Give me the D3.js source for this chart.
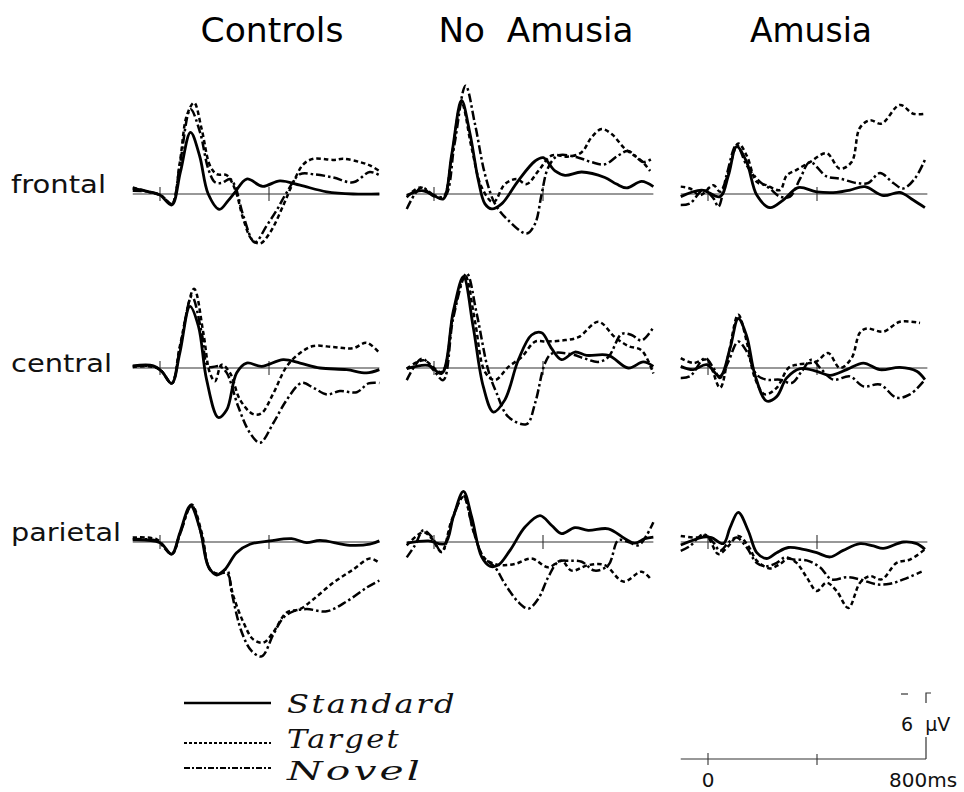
<!DOCTYPE html>
<html>
<head>
<meta charset="utf-8">
<script src="https://cdn.jsdelivr.net/npm/d3@7"></script>
<style>
  html, body { margin: 0; padding: 0; background: #fff; }
  svg { display: block; }
</style>
</head>
<body>
<svg id="chart" width="964" height="792"></svg>
<script>
    'use strict';

    // groups, sites and conditions
    const groups = ['Controls', 'No  Amusia', 'Amusia'];
    const sites = ['frontal', 'central', 'parietal'];
    const conditions = ['Standard', 'Target', 'Novel'];
    const timeTicks = [0, 400];

    // waveforms: [ms, µV], negative plotted up
    const ctlFrontalStd = [[-100,-0.5],[-40,-0.2],[0,0.1],[43,1.0],[75,-2.0],[112,-5.6],[145,-3.5],[177,0],[218,1.4],[250,0.6],[275,-0.15],[318,-1.36],[377,-0.7],[440,-1.2],[514,-0.8],[612,-0.2],[709,0],[805,0]];
    const ctlFrontalTgt = [[-100,-0.6],[-37,-0.15],[5,0.15],[43,0.9],[73,-2.9],[98,-7.1],[125,-8.3],[153,-5.9],[183,-2.6],[208,-1.8],[245,-1.7],[275,-0.45],[306,2.3],[336,4.1],[367,4.5],[404,3.5],[452,1.06],[489,-1.06],[526,-2.7],[563,-3.2],[636,-3.1],[673,-3.2],[734,-2.9],[770,-2.6],[805,-2.1]];
    const ctlFrontalNov = [[-100,-0.3],[-37,-0.2],[5,0.15],[43,0.9],[73,-2.7],[112,-7.7],[147,-5.6],[177,-2.3],[202,-1.06],[226,-1.0],[257,-1.36],[275,-0.76],[306,2.0],[348,4.4],[391,2.9],[430,1.4],[465,-0.15],[514,-1.8],[563,-1.8],[636,-1.5],[709,-1.06],[770,-2.0],[805,-1.7]];

    const noaFrontalStd = [[-100,0.15],[-45,-0.3],[0,0.15],[34,0.45],[65,-3.6],[101,-8.5],[132,-5.5],[163,-1.2],[187,0.9],[212,1.36],[248,0.9],[309,-1.2],[371,-3.0],[401,-3.3],[444,-2.1],[481,-1.7],[542,-2.0],[627,-1.5],[670,-0.9],[707,-0.55],[762,-1.15],[805,-0.67]];
    const noaFrontalTgt = [[-100,0.3],[-51,-0.6],[0,0.2],[34,0.3],[65,-3.4],[101,-8.3],[138,-4.2],[175,-0.6],[218,0.76],[260,-0.9],[303,-1.36],[340,-0.9],[383,-2.1],[432,-3.5],[493,-3.4],[542,-3.8],[578,-5.15],[615,-5.9],[652,-5.45],[701,-4.1],[762,-3.0],[793,-2.1]];
    const noaFrontalNov = [[-100,1.36],[-70,0],[-45,-0.6],[0,0.1],[40,0.2],[75,-4.5],[116,-9.85],[150,-6.4],[187,-1.8],[224,0.9],[273,2.4],[340,3.6],[371,2.7],[395,0],[419,-2.4],[456,-3.5],[530,-3.3],[578,-2.9],[627,-2.7],[676,-3.5],[713,-3.9],[768,-2.9],[805,-3.3]];

    const amuFrontalStd = [[-100,0.24],[-23,-0.36],[44,0.24],[75,-1.7],[105,-4.3],[142,-2.9],[179,0.1],[227,1.24],[276,0.55],[331,-0.58],[399,-0.2],[472,-0.15],[521,-0.36],[576,-0.67],[643,0.15],[704,-0.15],[753,0.55],[796,1.24]];
    const amuFrontalTgt = [[-100,-0.67],[-66,-0.5],[-29,0.1],[20,-0.8],[44,-0.2],[68,-1.4],[111,-4.6],[142,-3.5],[179,-1.1],[215,-0.8],[264,-0.36],[289,-1.7],[325,-2.2],[374,-2.9],[435,-3.7],[484,-2.3],[527,-2.9],[557,-6.0],[594,-6.7],[637,-6.4],[704,-8.1],[753,-7.3],[796,-7.3]];
    const amuFrontalNov = [[-100,1.0],[-66,0.85],[-17,-0.36],[20,0.4],[38,1.15],[68,-1.7],[105,-4.45],[142,-2.6],[191,-1.1],[227,-0.5],[264,0.24],[301,0.24],[338,-1.4],[374,-2.9],[435,-1.6],[484,-1.4],[545,-1.0],[588,-1.0],[631,-1.9],[680,-1.0],[716,-0.5],[759,-1.4],[796,-3.1]];

    const ctlCentralStd = [[-100,-0.2],[-24,-0.2],[6,0.3],[43,1.4],[73,-1.4],[110,-5.6],[141,-3.8],[171,1.06],[214,4.5],[245,3.8],[281,0.45],[318,-0.45],[373,-0.15],[452,-0.76],[514,-0.45],[587,0],[685,0.15],[758,0.45],[805,0.15]];
    const ctlCentralTgt = [[-100,-0.1],[-24,-0.1],[6,0.3],[43,1.4],[73,-2.0],[125,-7.2],[159,-3.2],[183,0.45],[202,1.2],[226,-0.3],[257,0.45],[294,2.9],[342,4.2],[373,4.1],[416,2.3],[465,-0.15],[514,-1.36],[563,-2.0],[636,-1.9],[709,-1.8],[758,-2.3],[805,-1.36]];
    const ctlCentralNov = [[-100,-0.15],[-24,-0.15],[6,0.3],[43,1.4],[73,-1.8],[117,-6.5],[153,-3.2],[177,-0.15],[220,-0.15],[245,0.45],[287,3.5],[330,5.9],[367,6.8],[416,5.0],[465,2.9],[520,1.36],[563,1.8],[612,2.4],[660,2.1],[722,2.2],[765,1.4],[805,1.36]];

    const noaCentralStd = [[-100,0.06],[-21,-0.24],[28,0.5],[71,-5.2],[108,-8.3],[144,-3.7],[181,1.7],[218,4.0],[260,2.9],[309,-0.7],[358,-3.0],[395,-3.2],[432,-1.76],[468,-0.76],[517,-1.45],[560,-1.15],[640,-1.15],[713,0],[768,-0.55],[805,-0.15]];
    const noaCentralTgt = [[-100,0.06],[-39,-0.7],[28,0.36],[71,-4.9],[114,-8.4],[150,-4.3],[187,0.36],[224,1.1],[273,-0.1],[322,-1.0],[371,-2.4],[413,-2.4],[468,-2.5],[530,-2.8],[603,-4.2],[664,-2.8],[713,-2.0],[762,-1.6],[805,0.5]];
    const noaCentralNov = [[-100,1.1],[-45,-0.85],[-2,0.2],[34,1.1],[71,-4.6],[120,-8.6],[157,-4.9],[199,0.2],[230,2.3],[273,4.45],[340,5.1],[371,3.2],[407,-0.4],[432,-1.3],[505,-1.25],[554,-0.85],[603,-0.55],[640,-1.0],[689,-3.1],[725,-3.0],[762,-2.5],[805,-3.7]];

    const amuCentralStd = [[-100,-0.15],[-54,0.15],[-5,-0.3],[44,0.76],[81,-1.8],[111,-4.5],[142,-2.9],[172,0.6],[215,3.0],[252,2.6],[289,0.9],[338,0.06],[399,0.3],[448,0.67],[509,0.15],[570,-0.45],[631,0.15],[704,-0.06],[766,0.3],[796,1.06]];
    const amuCentralTgt = [[-100,-0.9],[-54,-0.45],[-5,-0.75],[44,1.8],[75,-1.2],[111,-4.85],[142,-2.4],[172,0.9],[209,2.4],[252,1.8],[295,0],[325,-0.3],[374,-0.45],[399,-0.6],[441,-1.36],[484,0],[527,-0.9],[557,-3.2],[582,-3.6],[643,-3.3],[704,-4.2],[778,-4.1]];
    const amuCentralNov = [[-100,0.9],[-66,0.75],[-11,-0.9],[20,0],[44,0.9],[75,-0.6],[111,-2.4],[142,-1.5],[178,0.6],[215,1.06],[264,1.06],[307,1.36],[344,0.3],[380,-0.76],[417,0.15],[460,1.06],[521,0.76],[570,1.67],[631,1.5],[692,2.7],[741,2.4],[796,1.06]];

    const ctlParietalStd = [[-100,-0.2],[0,0.06],[43,1.1],[73,-0.85],[112,-3.3],[147,-1.15],[177,2.2],[208,3.0],[238,2.5],[281,0.97],[330,0.2],[404,-0.1],[483,-0.3],[538,0.06],[587,-0.15],[697,0.3],[770,0.2],[805,-0.1]];
    const ctlParietalTgt = [[-100,-0.4],[-12,-0.24],[43,1.1],[73,-0.7],[116,-3.4],[153,-0.85],[183,2.5],[214,2.9],[245,2.8],[269,4.9],[306,7.3],[342,8.85],[379,9.15],[416,8.2],[465,6.4],[514,6.1],[563,5.2],[636,3.7],[709,2.5],[770,1.5],[805,1.9]];
    const ctlParietalNov = [[-100,-0.24],[-12,-0.1],[43,1.1],[73,-0.7],[116,-3.3],[153,-0.55],[183,2.5],[214,2.9],[245,2.5],[263,4.6],[300,8.2],[336,9.9],[373,10.4],[416,8.4],[452,6.9],[489,6.3],[538,6.1],[612,6.3],[685,5.4],[758,4.15],[805,3.5]];

    const noaParietalStd = [[-100,0.1],[-21,-0.1],[40,0.15],[71,-2.3],[108,-4.6],[138,-2.3],[175,1.36],[205,2.2],[236,2.1],[279,0.76],[334,-1.36],[389,-2.4],[432,-1.5],[468,-0.76],[517,-1.3],[566,-1.06],[640,-1.2],[701,-0.3],[737,0.1],[774,-0.3],[805,-0.45]];
    const noaParietalTgt = [[-100,0.3],[-39,-0.9],[-8,-0.3],[28,0.9],[65,-2.0],[108,-4.1],[144,-1.06],[181,1.36],[212,1.9],[248,2.1],[297,2.0],[358,1.5],[419,2.3],[468,1.7],[505,2.6],[566,2.1],[627,2.1],[695,3.6],[762,2.7],[799,3.5]];
    const noaParietalNov = [[-100,1.4],[-70,0.3],[-39,-1.06],[-8,-0.45],[28,0.9],[71,-2.3],[108,-4.2],[144,-1.06],[181,1.36],[224,2.3],[260,3.8],[309,5.45],[346,6.06],[383,5.15],[419,3.2],[456,1.8],[493,1.7],[542,1.8],[590,2.6],[640,2.1],[676,-0.15],[713,0],[750,0.3],[780,-0.6],[805,-1.8]];

    const amuParietalStd = [[-100,0.27],[-17,-0.45],[13,-0.4],[56,0.15],[81,-1.3],[111,-2.7],[148,-1.0],[179,0.97],[215,1.5],[252,0.97],[295,0.5],[350,0.67],[399,0.97],[448,1.36],[496,0.76],[558,0.15],[607,0.36],[643,0.58],[717,0],[766,0.15],[796,0.67]];
    const amuParietalTgt = [[-100,-0.55],[-41,-0.4],[-5,-0.55],[38,1.1],[75,0.36],[111,-0.55],[148,0.36],[179,1.7],[227,2.4],[264,2.0],[295,1.5],[325,1.9],[362,3.2],[399,4.45],[435,3.7],[472,4.45],[515,6.0],[558,3.7],[594,3.1],[637,3.4],[692,1.9],[741,1.6],[796,0.67]];
    const amuParietalNov = [[-100,0.8],[-66,0.36],[-17,-0.7],[20,0.06],[44,0.8],[75,0.06],[105,-0.4],[142,0.5],[179,1.9],[215,2.2],[252,1.9],[283,1.4],[313,1.6],[362,1.67],[411,2.3],[454,3.4],[509,3.2],[558,3.4],[619,3.85],[668,3.8],[717,3.4],[784,2.7]];

    const calibrationMicroVolts = 6;
    const calibrationLabels = ['0', '800ms'];

    // layout
    const colZero = [160, 434, 708];
    const rowBase = [194, 368, 542];
    const pxPerMs = 0.2725;
    const pxPerMicroVolt = 11;

    const styleByCondition = {
        Standard: { dash: null, width: 2.8 },
        Target: { dash: '4.5,3', width: 2.5 },
        Novel: { dash: '9,3,2.5,3', width: 2.5 }
    };

    const waves = [
        [[ctlFrontalStd, ctlFrontalTgt, ctlFrontalNov], [noaFrontalStd, noaFrontalTgt, noaFrontalNov], [amuFrontalStd, amuFrontalTgt, amuFrontalNov]],
        [[ctlCentralStd, ctlCentralTgt, ctlCentralNov], [noaCentralStd, noaCentralTgt, noaCentralNov], [amuCentralStd, amuCentralTgt, amuCentralNov]],
        [[ctlParietalStd, ctlParietalTgt, ctlParietalNov], [noaParietalStd, noaParietalTgt, noaParietalNov], [amuParietalStd, amuParietalTgt, amuParietalNov]]
    ];

    const svg = d3.select('#chart');

    function makeScaleX(zero) {
        return d3.scaleLinear()
            .domain([-100, 800])
            .range([zero - 100 * pxPerMs, zero + 800 * pxPerMs]);
    }

    function makeScaleY(base) {
        // ERP convention: negative up
        return d3.scaleLinear()
            .domain([-10, 10])
            .range([base - 10 * pxPerMicroVolt, base + 10 * pxPerMicroVolt]);
    }

    function drawBaseline(g, scaleX, scaleY, tickUp, tickDown) {
        g.append('line')
            .attr('x1', scaleX(-100)).attr('x2', scaleX(805))
            .attr('y1', scaleY(0)).attr('y2', scaleY(0))
            .attr('stroke', '#333').attr('stroke-width', 1.1);

        g.selectAll('line.tick')
            .data(timeTicks)
            .enter().append('line')
            .attr('class', 'tick')
            .attr('x1', function (d) { return scaleX(d); })
            .attr('x2', function (d) { return scaleX(d); })
            .attr('y1', scaleY(0) - tickUp)
            .attr('y2', scaleY(0) + tickDown)
            .attr('stroke', '#333').attr('stroke-width', 1.1);
    }

    // column titles
    const titleX = [272, 536, 811];
    const titleWidth = [143, 195, 122];
    svg.selectAll('text.title')
        .data(groups)
        .enter().append('text')
        .attr('class', 'title')
        .attr('x', function (d, i) { return titleX[i]; })
        .attr('y', 42)
        .attr('text-anchor', 'middle')
        .attr('textLength', function (d, i) { return titleWidth[i]; })
        .attr('lengthAdjust', 'spacingAndGlyphs')
        .attr('font-family', 'DejaVu Sans, sans-serif')
        .attr('font-size', 34)
        .attr('fill', '#000')
        .style('white-space', 'pre')
        .text(function (d) { return d; });

    // row labels
    const labelWidth = [95, 101, 110];
    const labelDy = [-1, 4, -1];
    svg.selectAll('text.site')
        .data(sites)
        .enter().append('text')
        .attr('class', 'site')
        .attr('x', 11)
        .attr('y', function (d, i) { return rowBase[i] + labelDy[i]; })
        .attr('textLength', function (d, i) { return labelWidth[i]; })
        .attr('lengthAdjust', 'spacingAndGlyphs')
        .attr('font-family', 'DejaVu Sans, sans-serif')
        .attr('font-size', 25)
        .attr('fill', '#111')
        .text(function (d) { return d; });

    var line = d3.line()
        .curve(d3.curveCatmullRom.alpha(0.5));

    sites.forEach(function (site, r) {
        groups.forEach(function (group, c) {
            var scaleX = makeScaleX(colZero[c]);
            var scaleY = makeScaleY(rowBase[r]);
            var g = svg.append('g').attr('class', 'panel');

            drawBaseline(g, scaleX, scaleY, 7, 7);

            line.x(function (d) { return scaleX(d[0]); })
                .y(function (d) { return scaleY(d[1]); });

            conditions.forEach(function (cond, k) {
                var style = styleByCondition[cond];
                g.append('path')
                    .datum(waves[r][c][k])
                    .attr('d', line)
                    .attr('fill', 'none')
                    .attr('stroke', '#000')
                    .attr('stroke-width', style.width)
                    .attr('stroke-dasharray', style.dash)
                    .attr('stroke-linejoin', 'round');
            });
        });
    });

    // legend
    const legendY = [703, 743, 768];
    const legendTextY = [713, 748, 780];
    const legendTextWidth = [170, 114, 136];
    var legend = svg.append('g').attr('class', 'legend');
    conditions.forEach(function (cond, k) {
        legend.append('line')
            .attr('x1', 184).attr('x2', 271)
            .attr('y1', legendY[k]).attr('y2', legendY[k])
            .attr('stroke', '#000')
            .attr('stroke-width', k === 0 ? 2.6 : 2)
            .attr('stroke-dasharray', k === 1 ? '3,2' : (k === 2 ? '6,2,2,2' : null));
        legend.append('text')
            .attr('x', 287)
            .attr('y', legendTextY[k])
            .attr('textLength', legendTextWidth[k])
            .attr('lengthAdjust', 'spacingAndGlyphs')
            .attr('font-family', 'DejaVu Serif, serif')
            .attr('font-style', 'italic')
            .attr('font-size', 26)
            .attr('letter-spacing', 2)
            .attr('fill', '#111')
            .text(cond);
    });

    // calibration
    var calX = makeScaleX(708);
    var calY = makeScaleY(759);
    var cal = svg.append('g').attr('class', 'calibration');
    cal.append('line')
        .attr('x1', calX(-100)).attr('x2', calX(800))
        .attr('y1', calY(0)).attr('y2', calY(0))
        .attr('stroke', '#333').attr('stroke-width', 1.1);
    cal.selectAll('line.tick')
        .data(timeTicks)
        .enter().append('line')
        .attr('class', 'tick')
        .attr('x1', function (d) { return calX(d); })
        .attr('x2', function (d) { return calX(d); })
        .attr('y1', function (d) { return calY(0) - (d === 0 ? 6 : 5); })
        .attr('y2', calY(0) + 6)
        .attr('stroke', '#333').attr('stroke-width', 1.1);
    cal.append('line')
        .attr('x1', calX(800)).attr('x2', calX(800))
        .attr('y1', calY(0)).attr('y2', calY(-2))
        .attr('stroke', '#333').attr('stroke-width', 1.2);
    cal.append('path')
        .attr('d', 'M' + calX(800) + ',' + calY(-calibrationMicroVolts + 0.9) +
            'V' + calY(-calibrationMicroVolts) + 'h5')
        .attr('fill', 'none')
        .attr('stroke', '#333').attr('stroke-width', 1.2);
    cal.append('line')
        .attr('x1', calX(800) - 25).attr('x2', calX(800) - 18)
        .attr('y1', calY(-calibrationMicroVolts) + 1).attr('y2', calY(-calibrationMicroVolts) + 1)
        .attr('stroke', '#333').attr('stroke-width', 1.2);
    cal.append('text')
        .attr('x', calX(800) - 25)
        .attr('y', 731)
        .attr('font-family', 'DejaVu Sans, sans-serif')
        .attr('font-size', 19)
        .attr('fill', '#111')
        .style('white-space', 'pre')
        .text(calibrationMicroVolts + '  μV');
    cal.selectAll('text.caltick')
        .data(calibrationLabels)
        .enter().append('text')
        .attr('class', 'caltick')
        .attr('x', function (d, i) { return i === 0 ? calX(0) : calX(800) - 37; })
        .attr('y', 787)
        .attr('text-anchor', function (d, i) { return i === 0 ? 'middle' : 'start'; })
        .attr('font-family', 'DejaVu Sans, sans-serif')
        .attr('font-size', 20)
        .attr('fill', '#111')
        .text(function (d) { return d; });
</script>
</body>
</html>
